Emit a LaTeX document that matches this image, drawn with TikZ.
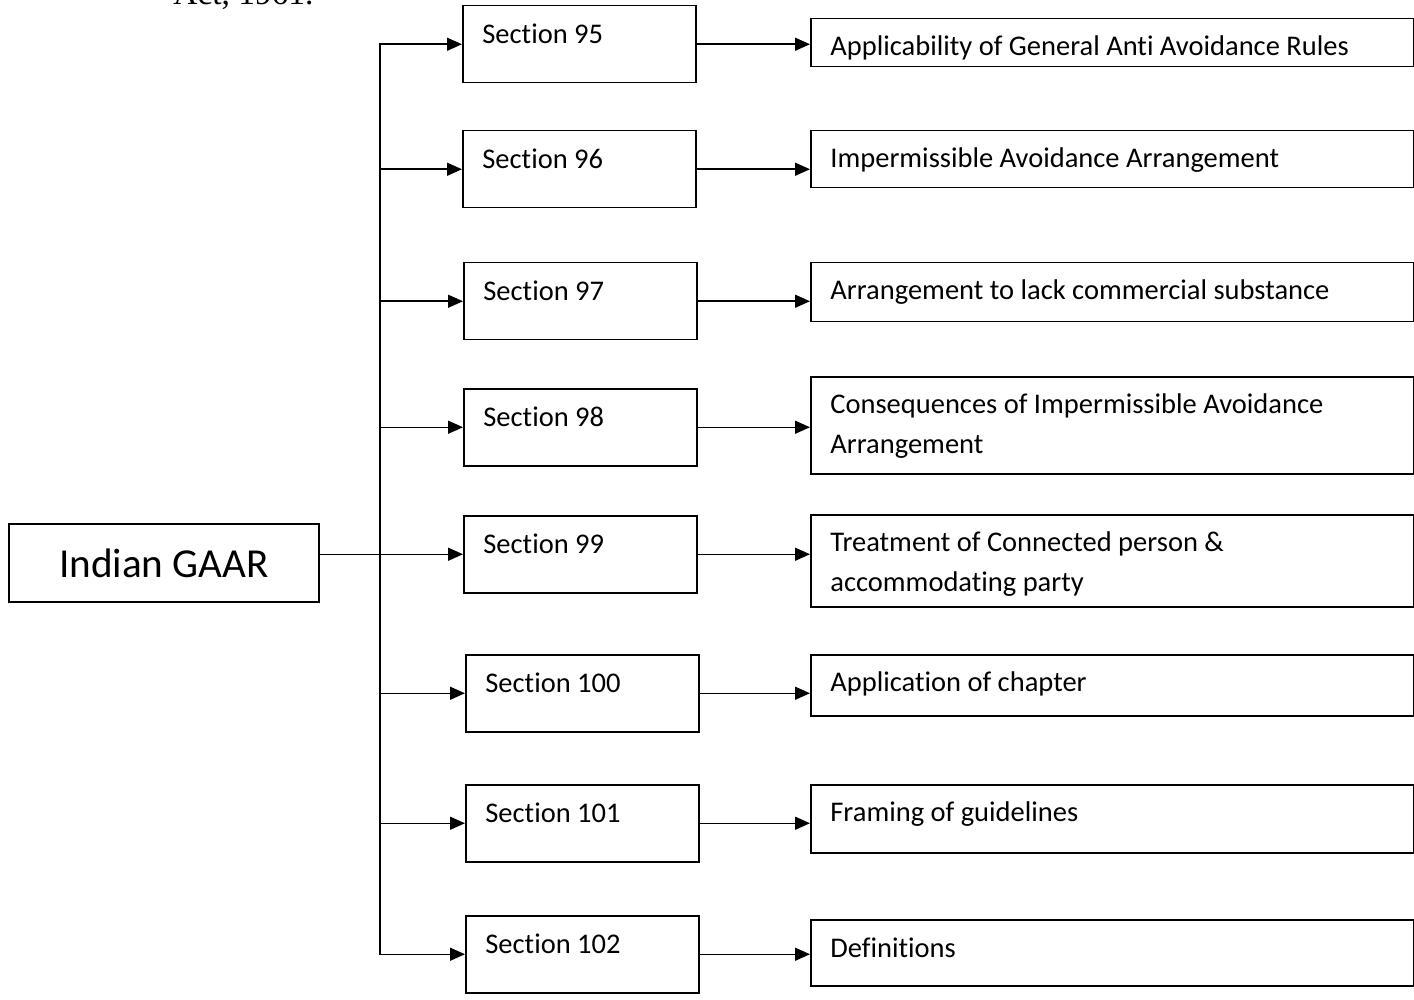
\documentclass[tikz,border=0pt]{standalone}
\usepackage{fontspec}
\setmainfont{Carlito}[Ligatures=NoCommon]
\newfontfamily\actfont{Liberation Serif}
\usetikzlibrary{arrows.meta}

\tikzset{
  gaarbox/.style={draw, line width=0.75pt, minimum width=155pt, minimum height=39pt,
    inner sep=0pt, font=\fontsize{20.6}{24}\selectfont},
  secbox/.style={draw, line width=0.75pt, anchor=north west, minimum width=116.5pt,
    minimum height=38.5pt, inner sep=0pt},
  descbox/.style={draw, line width=0.75pt, anchor=north west, minimum width=301.5pt,
    minimum height=#1, inner sep=0pt},
  boxtxt/.style={anchor=north west, inner sep=0pt, xshift=10pt, yshift=-18.5pt,
    text height=0pt, text width=280pt, align=left, font=\fontsize{14.25}{20}\selectfont,
    execute at begin node={\spaceskip=0pt\xspaceskip=0pt\relax}},
  arr/.style={line width=0.75pt, -{Triangle[length=7.5pt,width=6.5pt]}}
}

\begin{document}
\begin{tikzpicture}[x=0.5pt,y=-0.5pt]

\useasboundingbox (0,0) rectangle (1414,1000);

\node [anchor=base west, inner sep=0pt, font=\actfont\fontsize{16.7}{20}\selectfont] (act) at (173,5) {Act, 1961.};

\node [gaarbox] (gaar) at (164,563) {Indian GAAR};

\coordinate (trunk) at (380,0);

\node [secbox, label={[boxtxt]north west:Section 95}]  (s95)  at (462,5)   {};
\node [secbox, label={[boxtxt]north west:Section 96}]  (s96)  at (462,130) {};
\node [secbox, label={[boxtxt]north west:Section 97}]  (s97)  at (463,262) {};
\node [secbox, label={[boxtxt]north west:Section 98}]  (s98)  at (463,388) {};
\node [secbox, label={[boxtxt]north west:Section 99}]  (s99)  at (463,515) {};
\node [secbox, label={[boxtxt]north west:Section 100}] (s100) at (465,654) {};
\node [secbox, label={[boxtxt]north west:Section 101}] (s101) at (465,784) {};
\node [secbox, label={[boxtxt]north west:Section 102}] (s102) at (465,915) {};

\node [descbox=24pt,   label={[boxtxt]north west:Applicability of General Anti Avoidance Rules}] (d95) at (810,18) {};
\node [descbox=28.5pt, label={[boxtxt]north west:Impermissible Avoidance Arrangement}] (d96) at (810,130) {};
\node [descbox=29.5pt, label={[boxtxt]north west:Arrangement to lack commercial substance}] (d97) at (810,262) {};
\node [descbox=48.5pt, label={[boxtxt]north west:Consequences of Impermissible Avoidance\\Arrangement}] (d98) at (810,376) {};
\node [descbox=46pt,   label={[boxtxt]north west:Treatment of Connected person \&\\accommodating party}] (d99) at (810,514) {};
\node [descbox=30.5pt, label={[boxtxt]north west:Application of chapter}] (d100) at (810,654) {};
\node [descbox=34pt,   label={[boxtxt]north west:Framing of guidelines}] (d101) at (810,784) {};
\node [descbox=33pt,   label={[boxtxt]north west:Definitions}] (d102) at (810,919) {};

\draw [line width=0.75pt, line cap=rect] (s95.west -| trunk) -- (s102.west -| trunk);
\draw [line width=0.75pt] (gaar.east |- s99.west) -- (s99.west -| trunk);

\foreach \i in {95,...,102} {
\draw [arr] (s\i.west -| trunk) -- (s\i.west);
\draw [arr] (s\i.east) -- (s\i.east -| d\i.west);
}

\end{tikzpicture}
\end{document}
